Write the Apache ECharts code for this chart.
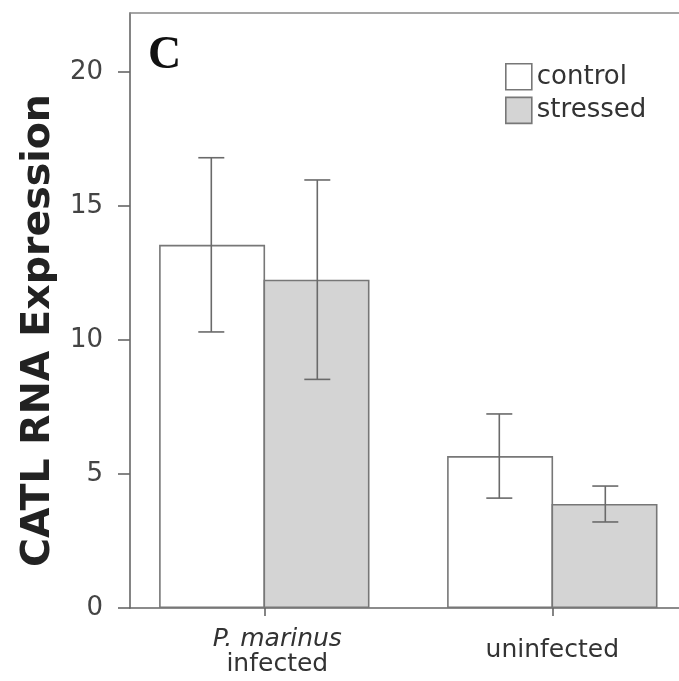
<!DOCTYPE html>
<html>
<head>
<meta charset="utf-8">
<script src="https://cdn.jsdelivr.net/npm/echarts@6/dist/echarts.min.js"></script>
<style>
  html, body { margin: 0; padding: 0; background: #fff; }
  #chart { width: 679px; height: 681px; }
</style>
</head>
<body>
<div id="chart"></div>
<script>
// ---- data ----
const categories = ['P. marinus\ninfected', 'uninfected'];
const seriesNames = ['control', 'stressed'];
const controlMeans = [13.55, 5.67];
const controlErrors = [3.25, 1.57];
const stressedMeans = [12.25, 3.88];
const stressedErrors = [3.72, 0.67];
const yTickValues = [0, 5, 10, 15, 20];
const panelLetter = 'C';
const yTitle = 'CATL RNA Expression';

// ---- layout / style ----
const BAR_WIDTH = 106;
const CAP_WIDTH = 26;
const GRID_LEFT = 130, GRID_RIGHT = 0, GRID_TOP = 13, GRID_BOTTOM = 73;
const CAT_SPACING_PX = 288;
const FIRST_CENTER_OFFSET = 134.3;
const plotWidth = 679 - GRID_LEFT - GRID_RIGHT;
const X_MIN = 1 - FIRST_CENTER_OFFSET / CAT_SPACING_PX;
const X_MAX = X_MIN + plotWidth / CAT_SPACING_PX;
const catPos = categories.map((c, i) => i + 1);
const FONT = 'DejaVu Sans';

function errorSeries(means, errs, side) {
  return {
    type: 'custom',
    xAxisIndex: 0,
    yAxisIndex: 0,
    z: 10,
    silent: true,
    data: means.map((m, i) => [catPos[i], m - errs[i], m + errs[i]]),
    encode: { x: 0, y: [1, 2] },
    renderItem(params, api) {
      const x = api.value(0);
      const lo = api.coord([x, api.value(1)]);
      const hi = api.coord([x, api.value(2)]);
      const cx = lo[0] + side * BAR_WIDTH / 2;
      const h = CAP_WIDTH / 2;
      const st = { stroke: '#6a6a6a', lineWidth: 1.6 };
      return {
        type: 'group',
        children: [
          { type: 'line', shape: { x1: cx, y1: hi[1], x2: cx, y2: lo[1] }, style: st },
          { type: 'line', shape: { x1: cx - h, y1: hi[1], x2: cx + h, y2: hi[1] }, style: st },
          { type: 'line', shape: { x1: cx - h, y1: lo[1], x2: cx + h, y2: lo[1] }, style: st }
        ]
      };
    }
  };
}

const chart = echarts.init(document.getElementById('chart'), null, { renderer: 'canvas' });
chart.setOption({
  animation: false,
  backgroundColor: '#fff',
  title: {
    text: panelLetter,
    left: 148,
    top: 33,
    padding: 0,
    textStyle: { fontFamily: 'Liberation Serif', fontWeight: 'bold', fontSize: 46, lineHeight: 46, color: '#111' }
  },
  legend: {
    data: seriesNames,
    orient: 'vertical',
    left: 505,
    top: 63,
    padding: 0,
    icon: 'rect',
    itemWidth: 26,
    itemHeight: 26,
    itemGap: 6,
    itemStyle: { borderWidth: 1.6 },
    textStyle: { fontFamily: FONT, fontSize: 26, lineHeight: 26, color: '#333' },
    selectedMode: false
  },
  grid: { left: GRID_LEFT, right: GRID_RIGHT, top: GRID_TOP, bottom: GRID_BOTTOM, containLabel: false },
  xAxis: [
    {
      type: 'value',
      position: 'bottom',
      min: X_MIN,
      max: X_MAX,
      axisLine: { show: true, onZero: false, lineStyle: { color: '#666', width: 1.6 } },
      axisTick: { show: true, customValues: catPos, length: 8, lineStyle: { color: '#666', width: 1.6 } },
      axisLabel: {
        show: true,
        customValues: catPos,
        margin: 42,
        verticalAlign: 'middle',
        fontFamily: FONT,
        fontSize: 25,
        lineHeight: 25,
        color: '#333',
        formatter: function (v) {
          const idx = catPos.indexOf(Math.round(v));
          if (idx < 0) return '';
          const lines = categories[idx].split('\n');
          if (lines.length > 1) {
            return '{it|' + lines[0] + '}\n{sh|' + lines.slice(1).join('\n') + '}';
          }
          return '{rm|' + lines[0] + '}';
        },
        rich: {
          it: { fontFamily: FONT, fontStyle: 'italic', fontSize: 25, lineHeight: 25, color: '#333', padding: [3, 0, 0, 26] },
          sh: { fontFamily: FONT, fontSize: 25, lineHeight: 25, color: '#333', padding: [3, 0, 0, 26] },
          rm: { fontFamily: FONT, fontSize: 25, lineHeight: 25, color: '#333' }
        }
      },
      splitLine: { show: false }
    },
    {
      type: 'value',
      position: 'top',
      min: X_MIN,
      max: X_MAX,
      axisLine: { show: true, onZero: false, lineStyle: { color: '#888', width: 1.6 } },
      axisTick: { show: false },
      axisLabel: { show: false },
      splitLine: { show: false }
    }
  ],
  yAxis: {
    type: 'value',
    min: 0,
    max: 22.2,
    name: yTitle,
    nameLocation: 'middle',
    nameRotate: 90,
    nameGap: 66,
    nameTextStyle: { fontFamily: FONT, fontWeight: 'bold', fontSize: 39.5, color: '#222', padding: [0, 40, 0, 0] },
    axisLine: { show: true, onZero: false, lineStyle: { color: '#666', width: 1.6 } },
    axisTick: { show: true, customValues: yTickValues, length: 12, lineStyle: { color: '#666', width: 1.6 } },
    axisLabel: { show: true, customValues: yTickValues, margin: 27, fontFamily: FONT, fontSize: 26, color: '#444', padding: [8, 0, 0, 0] },
    splitLine: { show: false }
  },
  series: [
    {
      name: seriesNames[0],
      type: 'bar',
      barWidth: BAR_WIDTH,
      barGap: '-1.5%',
      data: controlMeans.map((m, i) => [catPos[i], m]),
      itemStyle: { color: '#ffffff', borderColor: '#777', borderWidth: 1.6 }
    },
    {
      name: seriesNames[1],
      type: 'bar',
      barWidth: BAR_WIDTH,
      barGap: '-1.5%',
      data: stressedMeans.map((m, i) => [catPos[i], m]),
      itemStyle: { color: '#d4d4d4', borderColor: '#777', borderWidth: 1.6 }
    },
    errorSeries(controlMeans, controlErrors, -1),
    errorSeries(stressedMeans, stressedErrors, 1)
  ]
});
</script>
</body>
</html>
